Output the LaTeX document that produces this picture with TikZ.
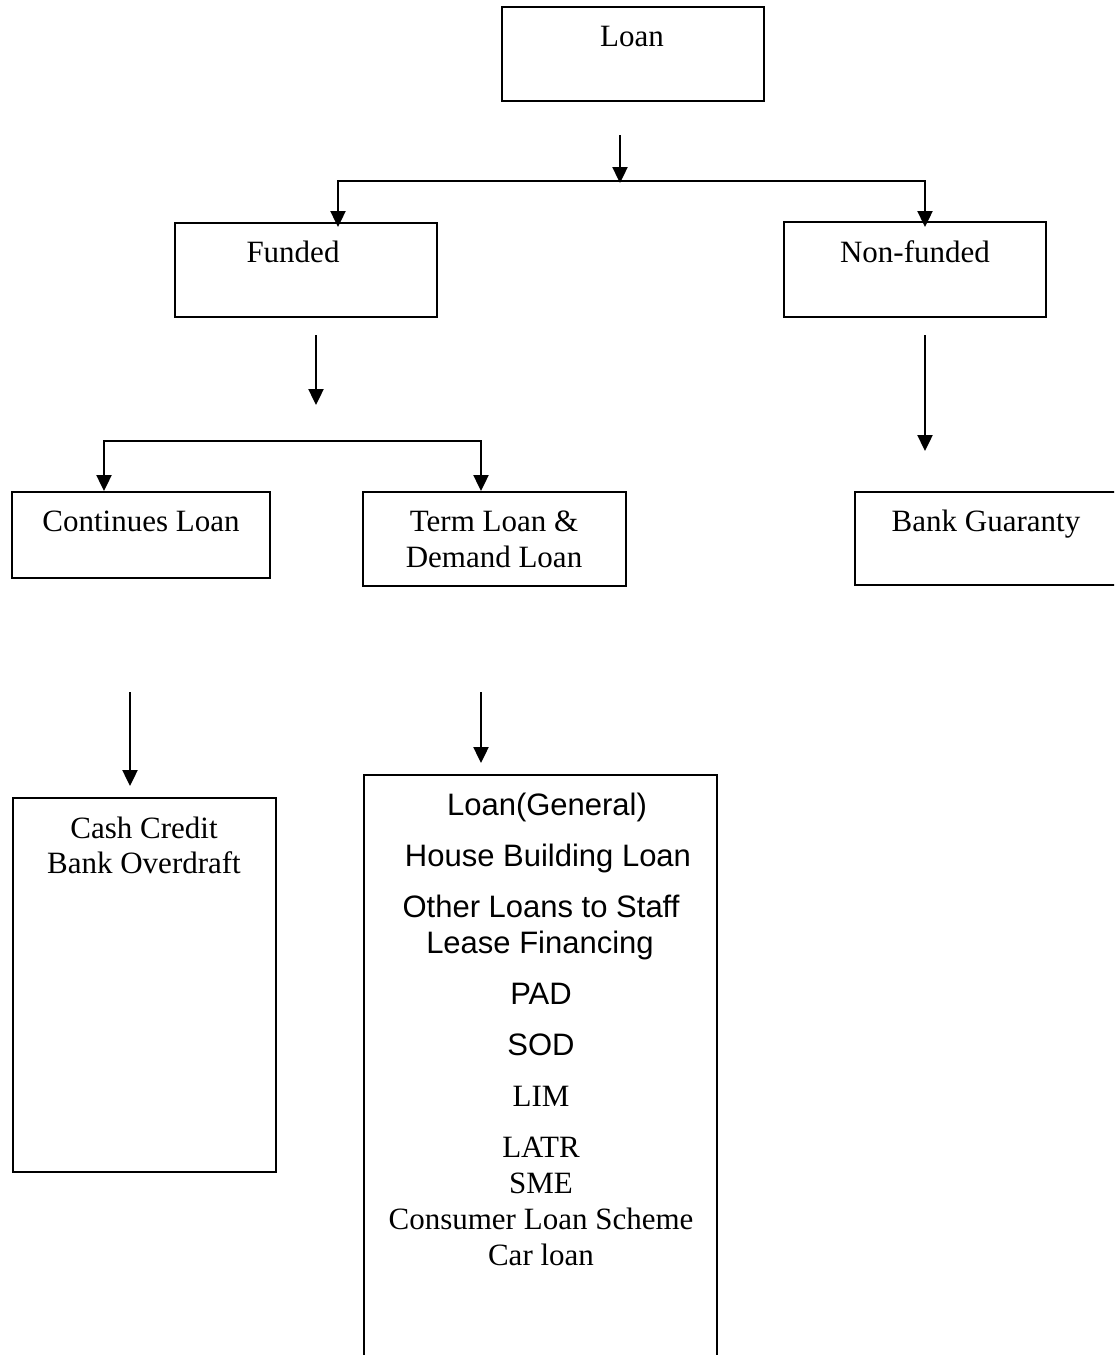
\documentclass[tikz,border=0pt]{standalone}
\usepackage{fontspec}
\setmainfont{Liberation Serif}
\setsansfont{Liberation Sans}
\usetikzlibrary{arrows.meta}
\begin{document}
\begin{tikzpicture}[x=0.5pt,y=-0.5pt,
  box/.style={draw=black,line width=1.2pt,fill=none,rectangle,inner sep=0pt},
  txt/.style={anchor=base,inner sep=0pt,font=\fontsize{15.5}{18}\selectfont},
  stxt/.style={txt,font=\fontsize{15.5}{18}\selectfont\sffamily},
  arr/.style={line width=1.2pt,-{Triangle[width=7.5pt,length=8pt]}}]
\useasboundingbox (0,0) rectangle (1114,1355);
\clip (0,0) rectangle (1114,1355);
\fill[white] (0,0) rectangle (1114,1355);
% boxes
\node[box,minimum width=131pt,minimum height=47pt] (loan) at (633,54) {};
\node[box,minimum width=131pt,minimum height=47pt] (funded) at (306,270) {};
\node[box,minimum width=131pt,minimum height=47.5pt] (nonfunded) at (915,269.5) {};
\node[box,minimum width=129pt,minimum height=43pt] (cont) at (141,535) {};
\node[box,minimum width=131.5pt,minimum height=47pt] (term) at (494.5,539) {};
\node[box,minimum width=130.5pt,minimum height=46.5pt] (bankg) at (985.5,538.5) {};
\node[box,minimum width=131.5pt,minimum height=187pt] (cash) at (144.5,985) {};
\node[box,minimum width=176.5pt,minimum height=295pt] (big) at (540.5,1070) {};
% texts
\node[txt] (tLoan) at (632,46) {Loan};
\node[txt] (tFunded) at (293,262) {Funded};
\node[txt] (tNonfunded) at (915,262) {Non-funded};
\node[txt] (tCont) at (141,531) {Continues Loan};
\node[txt] (tTerm1) at (494,531) {Term Loan \&};
\node[txt] (tTerm2) at (494,567) {Demand Loan};
\node[txt] (tBankg) at (986,531) {Bank Guaranty};
\node[txt] (tCash1) at (144,838) {Cash Credit};
\node[txt] (tCash2) at (144,873) {Bank Overdraft};
\node[stxt] (tB1) at (547,815) {Loan(General)};
\node[stxt] (tB2) at (548,866) {House Building Loan};
\node[stxt] (tB3) at (541,917) {Other Loans to Staff};
\node[stxt] (tB4) at (540,953) {Lease Financing};
\node[stxt] (tB5) at (541,1004) {PAD};
\node[stxt] (tB6) at (541,1055) {SOD};
\node[txt] (tB7) at (541,1106) {LIM};
\node[txt] (tB8) at (541,1157) {LATR};
\node[txt] (tB9) at (541,1193) {SME};
\node[txt] (tB10) at (541,1229) {Consumer Loan Scheme};
\node[txt] (tB11) at (541,1265) {Car loan};
% connector points
\coordinate (loanOut) at (620,135);
\coordinate (split1) at (620,183);
\coordinate (splitA) at (620,181);
\coordinate (fundedIn) at (338,227);
\coordinate (nonfundedIn) at (925,227);
\coordinate (fundedOut) at (316,335);
\coordinate (fundedArr) at (316,405);
\coordinate (split2) at (316,441);
\coordinate (contIn) at (104,491);
\coordinate (termIn) at (481,491);
\coordinate (nonfundedOut) at (925,335);
\coordinate (nonfundedArr) at (925,451);
\coordinate (contOut) at (130,692);
\coordinate (cashIn) at (130,786);
\coordinate (termOut) at (481,692);
\coordinate (bigIn) at (481,763);
% connectors
\draw[arr] (loanOut) -- (split1);
\draw[arr] (splitA) -| (fundedIn);
\draw[arr] (splitA) -| (nonfundedIn);
\draw[arr] (fundedOut) -- (fundedArr);
\draw[arr] (split2) -| (contIn);
\draw[arr] (split2) -| (termIn);
\draw[arr] (nonfundedOut) -- (nonfundedArr);
\draw[arr] (contOut) -- (cashIn);
\draw[arr] (termOut) -- (bigIn);
\end{tikzpicture}
\end{document}
